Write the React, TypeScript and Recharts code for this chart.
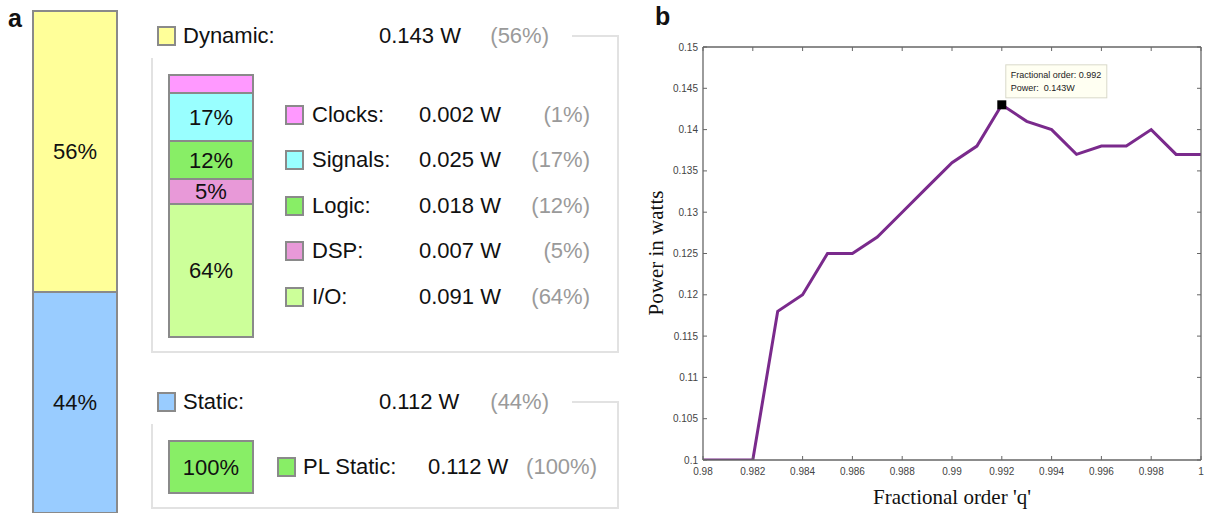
import React from 'react';
import { BarChart, Bar, XAxis, YAxis, LabelList, LineChart, Line, ReferenceDot } from 'recharts';

// panel a: on-chip power summary
const totalParts = ['Dynamic', 'Static'];
const totalWatts = [0.143, 0.112];
const totalPercent = [56, 44];

const dynamicParts = ['Clocks', 'Signals', 'Logic', 'DSP', 'I/O'];
const dynamicWatts = [0.002, 0.025, 0.018, 0.007, 0.091];
const dynamicPercent = [1, 17, 12, 5, 64];
// share of the drawn bar (small parts get a minimum height in the report)
const dynamicBarShare = [6.9, 18.3, 14.5, 9.5, 50.8];

const staticParts = ['PL Static'];
const staticWatts = [0.112];
const staticPercent = [100];

// panel b: power vs fractional order
const orderQ = [0.98, 0.981, 0.982, 0.983, 0.984, 0.985, 0.986, 0.987, 0.988, 0.989, 0.99,
  0.991, 0.992, 0.993, 0.994, 0.995, 0.996, 0.997, 0.998, 0.999, 1];
const powerW = [0.1, 0.1, 0.1, 0.118, 0.12, 0.125, 0.125, 0.127, 0.13, 0.133, 0.136,
  0.138, 0.143, 0.141, 0.14, 0.137, 0.138, 0.138, 0.14, 0.137, 0.137];
const qTicks = [0.98, 0.982, 0.984, 0.986, 0.988, 0.99, 0.992, 0.994, 0.996, 0.998, 1];
const powerTicks = [0.1, 0.105, 0.11, 0.115, 0.12, 0.125, 0.13, 0.135, 0.14, 0.145, 0.15];
const peakQ = 0.992;
const peakPower = 0.143;

const totalColors = ['#ffff99', '#99ccff'];
const dynamicColors = ['#ff99ff', '#99ffff', '#88ee66', '#e899d8', '#ccff99'];
const staticColors = ['#88ee66'];

const SANS = '"Liberation Sans", Arial, sans-serif';
const SERIF = '"Liberation Serif", "Times New Roman", serif';
const AXIS = '#666';

const totalRow = [Object.fromEntries([['name', 'total'], ...totalParts.map((p, i) => [p, totalPercent[i]])])];
const dynamicRow = [Object.fromEntries([['name', 'dynamic'], ...dynamicParts.map((p, i) => [p, dynamicBarShare[i]])])];
const staticRow = [Object.fromEntries([['name', 'static'], ...staticParts.map((p, i) => [p, staticPercent[i]])])];
const lineData = orderQ.map((q, i) => ({ q, p: powerW[i] }));

const fmt = (v: number) => String(parseFloat(v.toFixed(3)));
const watts = (v: number) => `${v.toFixed(3)} W`;

function Txt({ x, y, children, color = '#111', size = 22, right = false, bold = false, font = SANS }: any) {
  const pos = right ? { right: 1209 - x } : { left: x };
  return (
    <div style={{ position: 'absolute', top: y, ...pos, transform: 'translateY(-50%)', fontSize: size, lineHeight: 1, color, fontFamily: font, fontWeight: bold ? 700 : 400, whiteSpace: 'nowrap' }}>
      {children}
    </div>
  );
}

function Swatch({ x, y, color }: { x: number; y: number; color: string }) {
  return <div style={{ position: 'absolute', left: x, top: y - 10, width: 19, height: 20, background: color, border: '2px solid #8a8a8a', boxSizing: 'border-box' }} />;
}

function Rule({ x, y, w, h }: { x: number; y: number; w: number; h: number }) {
  return <div style={{ position: 'absolute', left: x, top: y, width: w, height: h, background: '#e2e2e2' }} />;
}

function StackBar({ row, parts, colors, labels, width, height }: any) {
  return (
    <BarChart width={width} height={height} data={row} margin={{ top: 1, right: 1, bottom: 1, left: 1 }} barCategoryGap={0}>
      <XAxis dataKey="name" hide />
      <YAxis hide domain={[0, 100]} />
      {parts.map((p: string, i: number) => (
        <Bar key={p} dataKey={p} stackId="s" fill={colors[i]} stroke="#8a8a8a" strokeWidth={2} isAnimationActive={false}>
          {labels[i] && (
            <LabelList dataKey={p} position="center" formatter={() => labels[i]} fill="#111" fontSize={22} fontFamily={SANS} />
          )}
        </Bar>
      ))}
    </BarChart>
  );
}

// inward ticks, MATLAB style
const BottomTick = ({ x, y, payload }: any) => (
  <g>
    <line x1={x} x2={x} y1={y} y2={y - 4} stroke={AXIS} />
    <text x={x} y={y + 15} textAnchor="middle" fontSize={10} fontFamily={SANS} fill="#444">{fmt(payload.value)}</text>
  </g>
);
const LeftTick = ({ x, y, payload }: any) => (
  <g>
    <line x1={x} x2={x + 4} y1={y} y2={y} stroke={AXIS} />
    <text x={x - 5} y={y + 3.5} textAnchor="end" fontSize={10} fontFamily={SANS} fill="#444">{fmt(payload.value)}</text>
  </g>
);
const TopTick = ({ x, y }: any) => <line x1={x} x2={x} y1={y} y2={y + 4} stroke={AXIS} />;
const RightTick = ({ x, y }: any) => <line x1={x} x2={x - 4} y1={y} y2={y} stroke={AXIS} />;

const PeakTip = (props: any) => {
  const { cx, cy } = props;
  if (cx == null || cy == null) return <g />;
  return (
    <g>
      <rect x={cx + 4} y={cy - 40} width={101} height={33} fill="#fffff2" stroke="#d9d9c9" />
      <text x={cx + 9} y={cy - 27} fontSize={9} fontFamily={SANS} fill="#222">{`Fractional order: ${peakQ}`}</text>
      <text x={cx + 9} y={cy - 14} fontSize={9} fontFamily={SANS} fill="#222" style={{ whiteSpace: 'pre' }}>{`Power:  ${peakPower}W`}</text>
      <rect x={cx - 4.5} y={cy - 4.5} width={9} height={9} fill="#000" />
    </g>
  );
};

export default function App() {
  // bottom-to-top order for the stacks
  const dynOrder = [...dynamicParts].reverse();
  const dynColors = [...dynamicColors].reverse();
  const dynLabels = [...dynamicPercent].reverse().map((v) => (v >= 2 ? `${v}%` : ''));
  const rowY = [115, 160, 206, 251, 297];

  return (
    <div style={{ position: 'absolute', left: 0, top: 0, width: 1209, height: 513, background: '#fff', overflow: 'hidden', fontFamily: SANS }}>
      <Txt x={8} y={18} size={25} bold>a</Txt>
      <Txt x={655} y={16} size={25} bold>b</Txt>

      {/* total bar */}
      <div style={{ position: 'absolute', left: 32, top: 10 }}>
        <StackBar row={totalRow} parts={[...totalParts].reverse()} colors={[...totalColors].reverse()}
          labels={[...totalPercent].reverse().map((v) => `${v}%`)} width={86} height={504} />
      </div>

      {/* dynamic group */}
      <Swatch x={157} y={36} color={totalColors[0]} />
      <Txt x={183} y={36}>{totalParts[0]}:</Txt>
      <Txt x={379} y={36}>{watts(totalWatts[0])}</Txt>
      <Txt x={549} y={36} right color="#9a9a9a">({totalPercent[0]}%)</Txt>
      <Rule x={572} y={35} w={47} h={2} />
      <Rule x={617} y={35} w={2} h={318} />
      <Rule x={151} y={58} w={2} h={295} />
      <Rule x={151} y={351} w={468} h={2} />
      <div style={{ position: 'absolute', left: 168, top: 74 }}>
        <StackBar row={dynamicRow} parts={dynOrder} colors={dynColors} labels={dynLabels} width={86} height={264} />
      </div>
      {dynamicParts.map((p, i) => (
        <React.Fragment key={p}>
          <Swatch x={285} y={rowY[i]} color={dynamicColors[i]} />
          <Txt x={312} y={rowY[i]}>{p}:</Txt>
          <Txt x={419} y={rowY[i]}>{watts(dynamicWatts[i])}</Txt>
          <Txt x={590} y={rowY[i]} right color="#9a9a9a">({dynamicPercent[i]}%)</Txt>
        </React.Fragment>
      ))}

      {/* static group */}
      <Swatch x={157} y={402} color={totalColors[1]} />
      <Txt x={183} y={402}>{totalParts[1]}:</Txt>
      <Txt x={379} y={402}>{watts(totalWatts[1])}</Txt>
      <Txt x={549} y={402} right color="#9a9a9a">({totalPercent[1]}%)</Txt>
      <Rule x={572} y={401} w={47} h={2} />
      <Rule x={617} y={401} w={2} h={108} />
      <Rule x={151} y={424} w={2} h={85} />
      <Rule x={151} y={507} w={468} h={2} />
      <div style={{ position: 'absolute', left: 168, top: 440 }}>
        <StackBar row={staticRow} parts={staticParts} colors={staticColors} labels={staticPercent.map((v) => `${v}%`)} width={86} height={54} />
      </div>
      <Swatch x={277} y={467} color={staticColors[0]} />
      <Txt x={303} y={467}>{staticParts[0]}:</Txt>
      <Txt x={428} y={467}>{watts(staticWatts[0])}</Txt>
      <Txt x={597} y={467} right color="#9a9a9a">({staticPercent[0]}%)</Txt>

      {/* panel b */}
      <div style={{ position: 'absolute', left: 620, top: 0 }}>
        <LineChart width={589} height={513} data={lineData} margin={{ top: 46, right: 7, bottom: 33, left: 43 }}>
          <XAxis dataKey="q" type="number" domain={[0.98, 1]} ticks={qTicks} allowDataOverflow
            height={20} tickSize={0} tickMargin={0} tickLine={false} stroke={AXIS} strokeWidth={1.3} tick={<BottomTick />} />
          <XAxis xAxisId="top" orientation="top" dataKey="q" type="number" domain={[0.98, 1]} ticks={qTicks} allowDataOverflow
            height={1} tickSize={0} tickMargin={0} tickLine={false} stroke={AXIS} strokeWidth={1.3} tick={<TopTick />} />
          <YAxis type="number" domain={[0.1, 0.15]} ticks={powerTicks} allowDataOverflow
            width={40} tickSize={0} tickMargin={0} tickLine={false} stroke={AXIS} strokeWidth={1.3} tick={<LeftTick />} />
          <YAxis yAxisId="right" orientation="right" type="number" domain={[0.1, 0.15]} ticks={powerTicks} allowDataOverflow
            width={1} tickSize={0} tickMargin={0} tickLine={false} stroke={AXIS} strokeWidth={1.3} tick={<RightTick />} />
          <Line type="linear" dataKey="p" stroke="#7a2a8c" strokeWidth={3} dot={false} isAnimationActive={false} />
          <ReferenceDot x={peakQ} y={peakPower} shape={PeakTip} />
        </LineChart>
      </div>
      <Txt x={952} y={497} size={21} font={SERIF}>
        <span style={{ display: 'inline-block', transform: 'translateX(-50%)' }}>Fractional order 'q'</span>
      </Txt>
      <div style={{ position: 'absolute', left: 656, top: 253, transform: 'translate(-50%, -50%) rotate(-90deg)', fontFamily: SERIF, fontSize: 21, lineHeight: 1, color: '#111', whiteSpace: 'nowrap' }}>
        Power in watts
      </div>
    </div>
  );
}
